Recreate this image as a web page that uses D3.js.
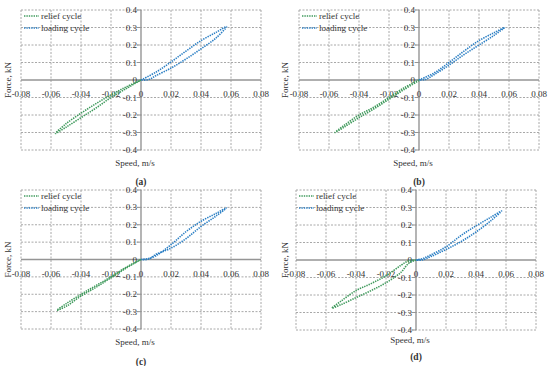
<!DOCTYPE html>
<html>
<head>
<meta charset="utf-8">
<script src="https://cdn.jsdelivr.net/npm/d3@7"></script>
<style>
html,body{margin:0;padding:0;background:#fff;}
svg{display:block;}
text{font-family:"Liberation Serif","DejaVu Serif",serif;fill:#333;}
</style>
</head>
<body>
<svg id="chart" width="550" height="366"></svg>
<script>
// ---- data ----
const xTicks = [-0.08, -0.06, -0.04, -0.02, 0, 0.02, 0.04, 0.06, 0.08];
const yTicks = [-0.4, -0.3, -0.2, -0.1, 0, 0.1, 0.2, 0.3, 0.4];
const seriesNames = ["relief cycle", "loading cycle"];
const panelLabels = ["(a)", "(b)", "(c)", "(d)"];

// each loop: out branch (origin -> tip) then back branch (tip -> origin)
const reliefA = [[0,0],[-0.01,-0.04],[-0.02,-0.085],[-0.03,-0.135],[-0.04,-0.19],[-0.05,-0.25],[-0.057,-0.305],
                 [-0.05,-0.27],[-0.04,-0.215],[-0.03,-0.16],[-0.02,-0.1],[-0.01,-0.05],[0,0]];
const loadingA = [[0,0],[0.01,0.045],[0.02,0.103],[0.03,0.165],[0.04,0.225],[0.05,0.272],[0.057,0.305],
                  [0.05,0.24],[0.04,0.178],[0.03,0.12],[0.02,0.068],[0.01,0.025],[0.005,0.002],[0,0]];

const reliefB = [[0,0],[-0.01,-0.045],[-0.02,-0.1],[-0.03,-0.155],[-0.04,-0.2],[-0.05,-0.26],[-0.056,-0.3],
                 [-0.05,-0.27],[-0.04,-0.215],[-0.03,-0.165],[-0.02,-0.11],[-0.01,-0.055],[0,-0.003]];
const loadingB = [[0,0],[0.01,0.04],[0.02,0.1],[0.03,0.165],[0.04,0.225],[0.05,0.27],[0.057,0.3],
                  [0.05,0.255],[0.04,0.2],[0.03,0.145],[0.02,0.085],[0.01,0.03],[0.004,0.002],[0,0]];

const reliefC = [[0,0],[-0.01,-0.045],[-0.02,-0.1],[-0.03,-0.15],[-0.04,-0.2],[-0.05,-0.255],[-0.056,-0.292],
                 [-0.05,-0.27],[-0.04,-0.21],[-0.03,-0.16],[-0.02,-0.105],[-0.01,-0.05],[0,0]];
const loadingC = [[0,0],[0.005,0.006],[0.01,0.022],[0.02,0.085],[0.03,0.16],[0.04,0.22],[0.05,0.265],[0.057,0.297],
                  [0.05,0.25],[0.04,0.19],[0.03,0.12],[0.02,0.065],[0.01,0.03],[0.005,0.002],[0,0]];

const reliefD = [[0,0],[-0.005,-0.005],[-0.01,-0.03],[-0.02,-0.09],[-0.03,-0.135],[-0.04,-0.175],[-0.05,-0.235],[-0.056,-0.275],
                 [-0.05,-0.255],[-0.04,-0.215],[-0.03,-0.175],[-0.02,-0.13],[-0.01,-0.07],[-0.005,-0.02],[0,0]];
const loadingD = [[0,0],[0.005,0.01],[0.01,0.03],[0.02,0.075],[0.03,0.14],[0.04,0.195],[0.05,0.245],[0.057,0.28],
                  [0.05,0.225],[0.04,0.16],[0.03,0.105],[0.02,0.06],[0.01,0.02],[0.004,0],[0,0]];

const panelData = [[reliefA, loadingA],[reliefB, loadingB],[reliefC, loadingC],[reliefD, loadingD]];

// ---- layout ----
const panels = [
  {left:21,  right:261, top:10,  bottom:150, yTitleX:8,   xTitleY:163, capY:182},
  {left:299, right:539, top:10,  bottom:150, yTitleX:285, xTitleY:163, capY:182},
  {left:21,  right:261, top:190, bottom:329, yTitleX:8,   xTitleY:342, capY:362},
  {left:296, right:536, top:190, bottom:330, yTitleX:285, xTitleY:340, capY:357}
];
const colors = ["#3f9a5c", "#2b7fc4"];
const gridColor = "#a8a8a8";
const axisColor = "#959595";

const svg = d3.select("#chart");

panels.forEach((p, i) => {
  const x = d3.scaleLinear().domain([-0.08, 0.08]).range([p.left, p.right]);
  const y = d3.scaleLinear().domain([-0.4, 0.4]).range([p.bottom, p.top]);
  const g = svg.append("g");

  // grid
  g.selectAll(".vg").data(xTicks.filter(t => t !== 0)).enter().append("line")
    .attr("x1", d => x(d)).attr("x2", d => x(d)).attr("y1", p.top).attr("y2", p.bottom)
    .attr("stroke", gridColor).attr("stroke-width", 1).attr("stroke-dasharray", "2,1.5");
  g.selectAll(".hg").data(yTicks.filter(t => t !== 0)).enter().append("line")
    .attr("x1", p.left).attr("x2", p.right).attr("y1", d => y(d)).attr("y2", d => y(d))
    .attr("stroke", gridColor).attr("stroke-width", 1).attr("stroke-dasharray", "2,1.5");

  // zero axes
  g.append("line").attr("x1", p.left).attr("x2", p.right).attr("y1", y(0)).attr("y2", y(0))
    .attr("stroke", axisColor).attr("stroke-width", 1.4);
  g.append("line").attr("x1", x(0)).attr("x2", x(0)).attr("y1", p.top).attr("y2", p.bottom)
    .attr("stroke", axisColor).attr("stroke-width", 1.4);
  // tick marks on vertical axis
  g.selectAll(".yt").data(yTicks).enter().append("line")
    .attr("x1", x(0) - 4).attr("x2", x(0)).attr("y1", d => y(d)).attr("y2", d => y(d))
    .attr("stroke", axisColor).attr("stroke-width", 1);

  // tick labels
  const fmt = d => d === 0 ? "0" : (+d.toFixed(2)).toString();
  g.selectAll(".xl").data(xTicks).enter().append("text")
    .attr("x", d => x(d)).attr("y", y(0) + 14)
    .attr("text-anchor", "middle").attr("dominant-baseline", "central")
    .attr("font-size", 9).text(fmt);
  g.selectAll(".yl").data(yTicks).enter().append("text")
    .attr("x", x(0) - 4).attr("y", d => y(d))
    .attr("text-anchor", "end").attr("dominant-baseline", "central")
    .attr("font-size", 9).text(fmt);

  // axis titles
  g.append("text").attr("transform", `translate(${p.yTitleX},${(p.top + p.bottom) / 2}) rotate(-90)`)
    .attr("text-anchor", "middle").attr("dominant-baseline", "central")
    .attr("font-size", 9).text("Force, kN");
  g.append("text").attr("x", x(0) - 6).attr("y", p.xTitleY)
    .attr("text-anchor", "middle").attr("dominant-baseline", "central")
    .attr("font-size", 9).text("Speed, m/s");
  g.append("text").attr("x", x(0)).attr("y", p.capY)
    .attr("text-anchor", "middle").attr("dominant-baseline", "central")
    .attr("font-size", 9.5).attr("font-weight", "bold").text(panelLabels[i]);

  // data loops
  const line = d3.line().x(d => x(d[0])).y(d => y(d[1])).curve(d3.curveCatmullRom);
  panelData[i].forEach((s, k) => {
    g.append("path").attr("d", line(s)).attr("fill", "none")
      .attr("stroke", colors[k]).attr("stroke-width", 1.6).attr("stroke-dasharray", "1.4,1");
  });

  // legend
  seriesNames.forEach((n, k) => {
    const ly = p.top + 6 + k * 12;
    g.append("line").attr("x1", p.left + 3).attr("x2", p.left + 18).attr("y1", ly).attr("y2", ly)
      .attr("stroke", colors[k]).attr("stroke-width", 1.4).attr("stroke-dasharray", "1.4,1");
    g.append("text").attr("x", p.left + 20).attr("y", ly)
      .attr("dominant-baseline", "central").attr("font-size", 9).text(n);
  });
});
</script>
</body>
</html>
